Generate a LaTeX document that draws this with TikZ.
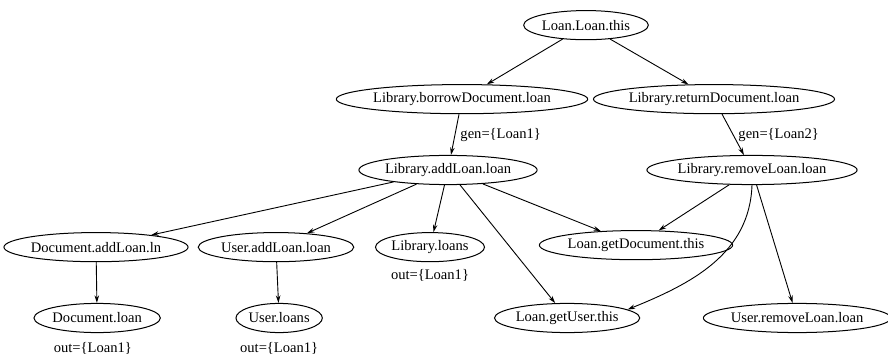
\documentclass[tikz,border=0pt]{standalone}
\usepackage{fontspec}
\setmainfont{Liberation Serif}
\usetikzlibrary{shapes.geometric,arrows.meta,positioning}

\begin{document}
\begin{tikzpicture}[
    font=\fontsize{14.5}{16}\selectfont,
    var/.style={ellipse, draw, line width=1pt, inner xsep=0pt, inner ysep=2pt, minimum height=1.02cm},
    note/.style={inner sep=1pt},
    arrow/.style={-{Stealth[length=7.5pt, width=4.5pt]}, line width=0.9pt}
]
    \useasboundingbox (0,0) rectangle (31.08,-12.565);

    % Variables
    \node[var] (this) at (20.51cm,-0.88cm) {Loan.Loan.this};
    \node[var] (borrow) at (16.17cm,-3.47cm) {Library.borrowDocument.loan};
    \node[var] (return) at (24.99cm,-3.47cm) {Library.returnDocument.loan};
    \node[var] (addloan) at (15.68cm,-5.95cm) {Library.addLoan.loan};
    \node[var] (removeloan) at (26.32cm,-5.95cm) {Library.removeLoan.loan};
    \node[var] (docaddln) at (3.36cm,-8.65cm) {Document.addLoan.ln};
    \node[var] (useraddloan) at (9.66cm,-8.65cm) {User.addLoan.loan};
    \node[var] (libloans) at (15.05cm,-8.65cm) {Library.loans};
    \node[var] (getdoc) at (22.26cm,-8.58cm) {Loan.getDocument.this};
    \node[var] (docloan) at (3.40cm,-11.13cm) {Document.loan};
    \node[var] (userloans) at (9.77cm,-11.13cm) {User.loans};
    \node[var] (getuser) at (19.85cm,-11.13cm) {Loan.getUser.this};
    \node[var] (userremove) at (27.90cm,-11.13cm) {User.removeLoan.loan};

    % Out sets
    \node[note, below=0.22cm of libloans] (libloansout) {out=\{Loan1\}};
    \node[note, below=0.27cm of docloan, xshift=-0.15cm] (docloanout) {out=\{Loan1\}};
    \node[note, below=0.27cm of userloans] (userloansout) {out=\{Loan1\}};

    % Arrows
    \draw[arrow] (this) -- (borrow);
    \draw[arrow] (this) -- (return);
    \draw[arrow] (borrow) -- node[note, right=4pt] {gen=\{Loan1\}} (addloan);
    \draw[arrow] (return) -- node[note, right=4pt] {gen=\{Loan2\}} (removeloan);
    \draw[arrow] (addloan) -- (docaddln);
    \draw[arrow] (addloan) -- (useraddloan);
    \draw[arrow] (addloan) -- (libloans);
    \draw[arrow] (addloan) -- (getdoc);
    \draw[arrow] (addloan) -- (getuser);
    \draw[arrow] (removeloan) -- (getdoc);
    \draw[arrow] (removeloan.south) to[out=-92, in=22] (getuser.8);
    \draw[arrow] (removeloan) -- (userremove);
    \draw[arrow] (docaddln) -- (docloan);
    \draw[arrow] (useraddloan) -- (userloans);
\end{tikzpicture}
\end{document}
